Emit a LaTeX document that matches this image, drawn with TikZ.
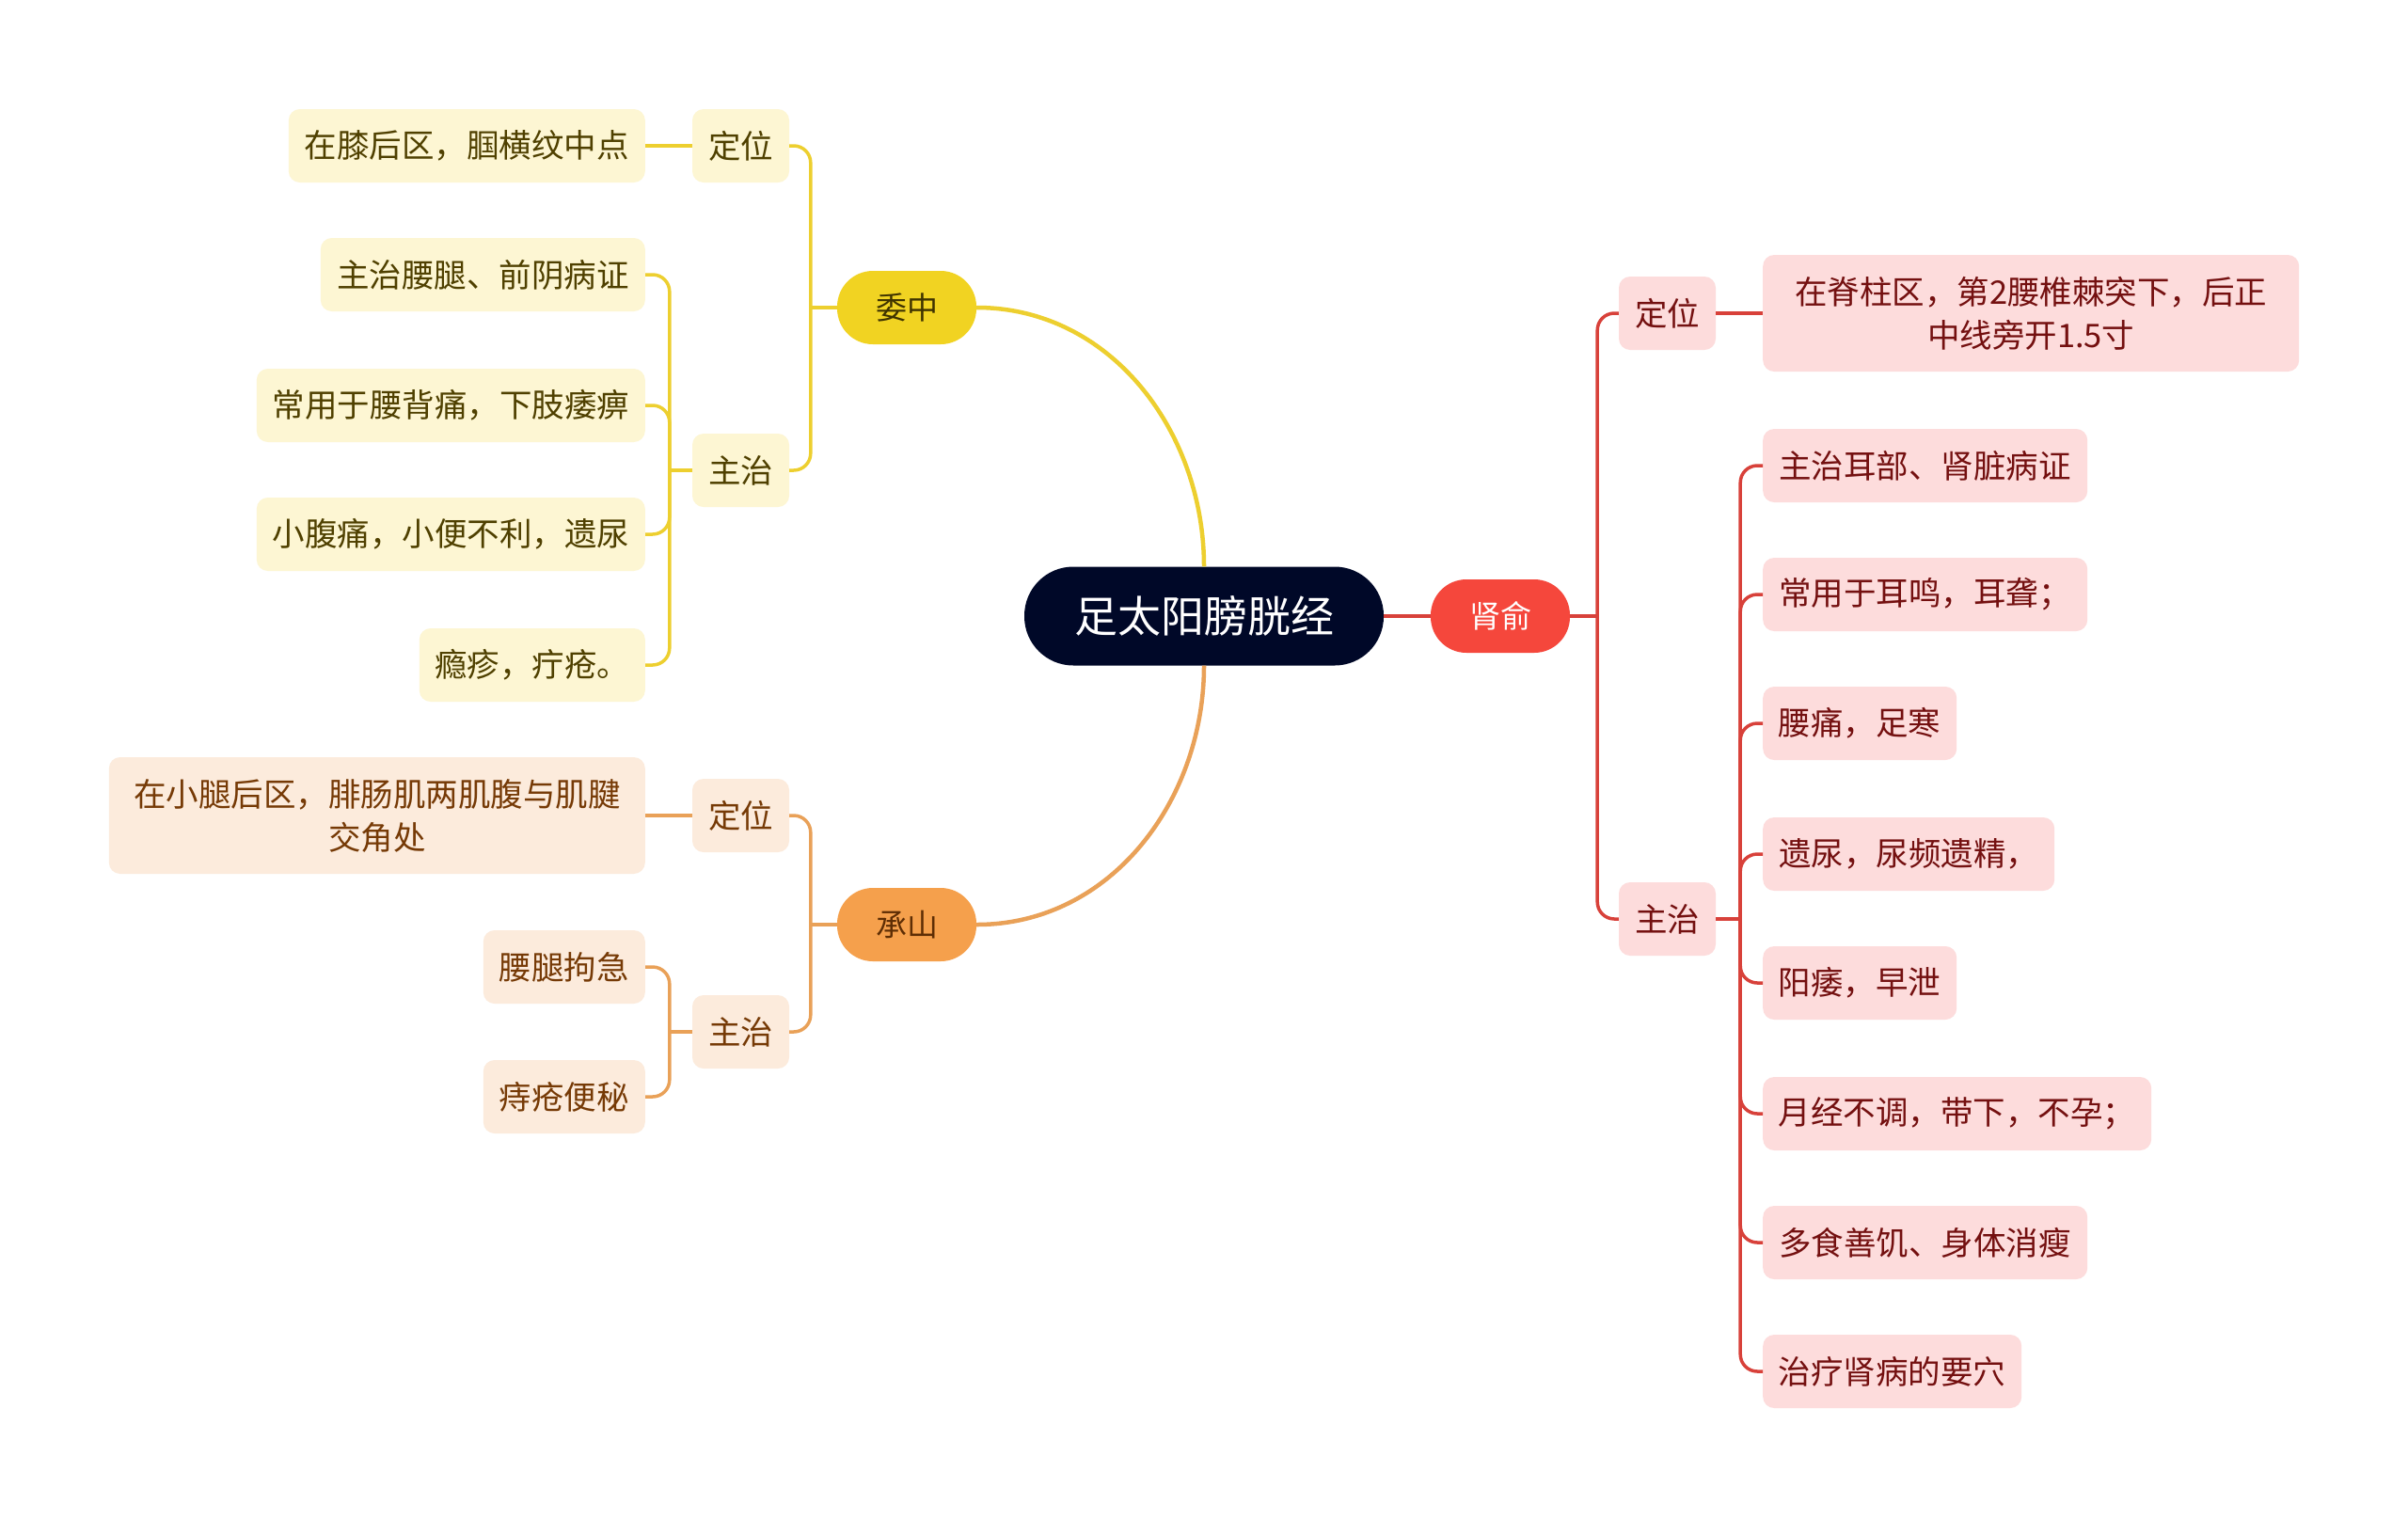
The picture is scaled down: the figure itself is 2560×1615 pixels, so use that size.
\documentclass[tikz,border=0pt]{standalone}
\usepackage{fontspec}
\setmainfont{Noto Sans CJK SC}
\definecolor{rootfill}{HTML}{000828}
\definecolor{yline}{HTML}{EDCF2F}
\definecolor{yfill}{HTML}{F1D322}
\definecolor{yleaf}{HTML}{FDF6D3}
\definecolor{ytext}{HTML}{4F4000}
\definecolor{oline}{HTML}{E9A158}
\definecolor{ofill}{HTML}{F5A04C}
\definecolor{oleaf}{HTML}{FCEBDC}
\definecolor{otext}{HTML}{763A06}
\definecolor{rline}{HTML}{D8413A}
\definecolor{rfill}{HTML}{F5473C}
\definecolor{rleaf}{HTML}{FDDCDC}
\definecolor{rtext}{HTML}{741010}
\tikzset{
  leafbox/.style={rounded corners=12, inner sep=0pt, align=center, minimum height=78,
    font=\fontsize{34.5}{46}\selectfont},
  ybox/.style={leafbox, fill=yleaf, text=ytext},
  obox/.style={leafbox, fill=oleaf, text=otext},
  rbox/.style={leafbox, fill=rleaf, text=rtext},
  mainbox/.style={rounded corners=38, inner sep=0pt, minimum width=148, minimum height=78,
    font=\fontsize{33}{40}\selectfont},
  conn/.style={line width=3.5},
  curveconn/.style={line width=3.5, rounded corners=18},
}
\begin{document}
\begin{tikzpicture}[x=1pt,y=-1pt]
\useasboundingbox[fill=white] (0,0) rectangle (2560,1615);

% root
\node[rounded corners=52, inner sep=0pt, minimum width=382, minimum height=105,
  fill=rootfill, text=white, font=\fontsize{46}{50}\selectfont] (root) at (1280,655) {足太阳膀胱经};

% level 1
\node[mainbox, fill=yfill, text=ytext!80!black] (wz) at (964,327) {委中};
\node[mainbox, fill=ofill, text=otext!80!black] (cs) at (964,983) {承山};
\node[mainbox, fill=rfill, text=white] (sy) at (1595,655) {肾俞};

% yellow branch
\node[ybox, minimum width=103] (wzd) at (787.5,155) {定位};
\node[ybox, minimum width=379, anchor=east] (wzd1) at (686,155) {在膝后区，腘横纹中点};
\node[ybox, minimum width=103] (wzz) at (787.5,500) {主治};
\node[ybox, minimum width=345, anchor=east] (wzz1) at (686,292) {主治腰腿、前阴病证};
\node[ybox, minimum width=413, anchor=east] (wzz2) at (686,431) {常用于腰背痛，下肢痿痹};
\node[ybox, minimum width=413, anchor=east] (wzz3) at (686,568) {小腹痛，小便不利，遗尿};
\node[ybox, minimum width=240, anchor=east] (wzz4) at (686,707) {瘾疹，疔疮。};

% orange branch
\node[obox, minimum width=103] (csd) at (787.5,867) {定位};
\node[obox, minimum width=570, minimum height=124, anchor=east] (csd1) at (686,867) {在小腿后区，腓肠肌两肌腹与肌腱\\交角处};
\node[obox, minimum width=103] (csz) at (787.5,1097) {主治};
\node[obox, minimum width=172, anchor=east] (csz1) at (686,1028) {腰腿拘急};
\node[obox, minimum width=172, anchor=east] (csz2) at (686,1166) {痔疮便秘};

% red branch
\node[rbox, minimum width=103] (syd) at (1772.5,333) {定位};
\node[rbox, minimum width=570, minimum height=124, anchor=west] (syd1) at (1874,333) {在脊柱区，第2腰椎棘突下，后正\\中线旁开1.5寸};
\node[rbox, minimum width=103] (syz) at (1772.5,977) {主治};
\node[rbox, minimum width=345, anchor=west] (syz1) at (1874,495) {主治耳部、肾脏病证};
\node[rbox, minimum width=345, anchor=west] (syz2) at (1874,632) {常用于耳鸣，耳聋；};
\node[rbox, minimum width=206, anchor=west] (syz3) at (1874,769) {腰痛，足寒};
\node[rbox, minimum width=310, anchor=west] (syz4) at (1874,908) {遗尿，尿频遗精，};
\node[rbox, minimum width=206, anchor=west] (syz5) at (1874,1045) {阳痿，早泄};
\node[rbox, minimum width=413, anchor=west] (syz6) at (1874,1184) {月经不调，带下，不孕；};
\node[rbox, minimum width=345, anchor=west] (syz7) at (1874,1321) {多食善饥、身体消瘦};
\node[rbox, minimum width=275, anchor=west] (syz8) at (1874,1458) {治疗肾病的要穴};

% root connectors
\draw[yline, line width=4.5] (root.north) to[out=90,in=0] (wz.east);
\draw[oline, line width=4.5] (root.south) to[out=-90,in=0] (cs.east);
\draw[rline, line width=4.5] (root.east) -- (sy.west);

% yellow connectors
\draw[yline, conn] (wz.west) -- ++(-28,0) coordinate (wzj);
\draw[yline, curveconn] (wzj) |- (wzd.east);
\draw[yline, curveconn] (wzj) |- (wzz.east);
\draw[yline, conn] (wzd.west) -- (wzd1.east);
\draw[yline, conn] (wzz.west) -- ++(-24,0) coordinate (wzzj);
\foreach \n in {wzz1,wzz2,wzz3,wzz4}
  \draw[yline, curveconn] (wzzj) |- (\n.east);

% orange connectors
\draw[oline, conn] (cs.west) -- ++(-28,0) coordinate (csj);
\draw[oline, curveconn] (csj) |- (csd.east);
\draw[oline, curveconn] (csj) |- (csz.east);
\draw[oline, conn] (csd.west) -- (csd1.east);
\draw[oline, conn] (csz.west) -- ++(-24,0) coordinate (cszj);
\foreach \n in {csz1,csz2}
  \draw[oline, curveconn] (cszj) |- (\n.east);

% red connectors
\draw[rline, conn] (sy.east) -- ++(29,0) coordinate (syj);
\draw[rline, curveconn] (syj) |- (syd.west);
\draw[rline, curveconn] (syj) |- (syz.west);
\draw[rline, conn] (syd.east) -- (syd1.west);
\draw[rline, conn] (syz.east) -- ++(26,0) coordinate (syzj);
\foreach \n in {syz1,syz2,syz3,syz4,syz5,syz6,syz7,syz8}
  \draw[rline, curveconn] (syzj) |- (\n.west);
\end{tikzpicture}
\end{document}
